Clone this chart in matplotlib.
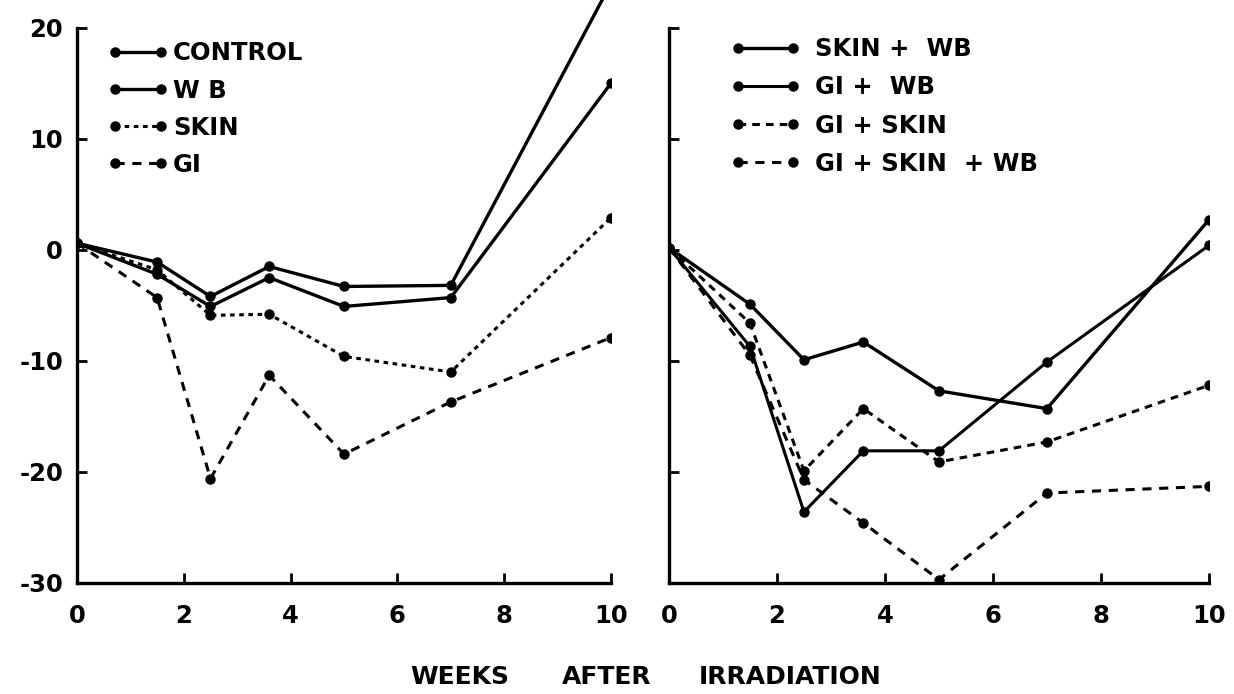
import matplotlib
matplotlib.use("Agg")
import matplotlib.pyplot as plt

# ---- data ----
weeks = [0, 1.5, 2.5, 3.6, 5, 7, 10]

control = [0.6, -1.1, -4.2, -1.5, -3.3, -3.2, 24.0]
wb = [0.6, -2.2, -5.1, -2.5, -5.1, -4.3, 15.0]
skin = [0.6, -1.8, -5.9, -5.8, -9.6, -11.0, 2.9]
gi = [0.6, -4.3, -20.6, -11.3, -18.4, -13.7, -7.9]

skin_wb = [0.2, -4.9, -9.9, -8.3, -12.7, -14.3, 2.7]
gi_wb = [0.2, -8.7, -23.6, -18.1, -18.1, -10.1, 0.4]
gi_skin = [0.2, -6.6, -19.9, -14.3, -19.1, -17.3, -12.2]
gi_skin_wb = [0.2, -9.5, -20.7, -24.6, -29.7, -21.9, -21.3]

left_labels = ["CONTROL", "W B", "SKIN", "GI"]
right_labels = ["SKIN +  WB", "GI +  WB", "GI + SKIN", "GI + SKIN  + WB"]

yticks = [-30, -20, -10, 0, 10, 20]
ytick_labels = ["-30", "-20", "-10", "0", "10", "20"]
xticks = [0, 2, 4, 6, 8, 10]
xtick_labels = ["0", "2", "4", "6", "8", "10"]
xlabel_words = ["WEEKS", "AFTER", "IRRADIATION"]

plt.rcParams['font.family'] = ['DejaVu Sans']
plt.rcParams['font.weight'] = 'bold'

fig = plt.figure(figsize=(12.34, 6.94), dpi=100)
axL = fig.add_axes([0.0624, 0.160, 0.4327, 0.840])
axR = fig.add_axes([0.5421, 0.160, 0.4376, 0.840])

k = 'black'
ms = 6.5
axL.plot(weeks, control, '-', color=k, lw=2.4, marker='o', ms=ms, label=left_labels[0])
axL.plot(weeks, wb, '-', color=k, lw=2.4, marker='o', ms=ms, label=left_labels[1])
axL.plot(weeks, skin, color=k, lw=2.2, ls=(0, (1.5, 1.5)), marker='o', ms=ms, label=left_labels[2])
axL.plot(weeks, gi, color=k, lw=2.2, ls=(0, (3, 2.5)), marker='o', ms=ms, label=left_labels[3])

axR.plot(weeks, skin_wb, '-', color=k, lw=2.4, marker='o', ms=ms, label=right_labels[0])
axR.plot(weeks, gi_wb, '-', color=k, lw=2.2, marker='o', ms=ms, label=right_labels[1])
axR.plot(weeks, gi_skin, color=k, lw=2.2, ls=(0, (2.5, 2)), marker='o', ms=ms, label=right_labels[2])
axR.plot(weeks, gi_skin_wb, color=k, lw=2.2, ls=(0, (3, 2.5)), marker='o', ms=ms, label=right_labels[3])

for ax in (axL, axR):
    ax.set_xlim(0, 10)
    ax.set_ylim(-30, 22.5)
    for s in ('top', 'right'):
        ax.spines[s].set_visible(False)
    ax.spines['left'].set_bounds(-30, 20)
    ax.spines['left'].set_linewidth(2.4)
    ax.spines['bottom'].set_linewidth(2.4)
    ax.set_xticks(xticks)
    ax.set_xticklabels(xtick_labels, fontsize=17.5, fontweight='bold')
    ax.tick_params(axis='x', direction='in', length=7, width=2, pad=15)
    ax.set_yticks(yticks)
    ax.tick_params(axis='y', direction='in', length=7, width=2, pad=10)
    ax.patch.set_visible(False)

axL.set_yticklabels(ytick_labels, fontsize=17.5, fontweight='bold')
axR.set_yticklabels([])

legL = axL.legend(loc='upper left', bbox_to_anchor=(0.0575, 0.929), frameon=False,
                  numpoints=2, handlelength=2.5, handletextpad=0.18,
                  borderpad=0, borderaxespad=0,
                  labelspacing=0.54, prop={'size': 17.5, 'weight': 'bold'})
legR = axR.legend(loc='upper left', bbox_to_anchor=(0.115, 0.936), frameon=False,
                  numpoints=2, handlelength=2.84, handletextpad=0.62,
                  borderpad=0, borderaxespad=0,
                  labelspacing=0.58, prop={'size': 17.5, 'weight': 'bold'})

# x-axis title, words spaced as in the original lettering
word_x_px = [460, 607, 790]
for w, xp in zip(xlabel_words, word_x_px):
    fig.text(xp / 1234, 1 - 677 / 694, w, ha='center', va='center',
             fontsize=18, fontweight='bold')

fig.savefig("out.png", dpi=100)
